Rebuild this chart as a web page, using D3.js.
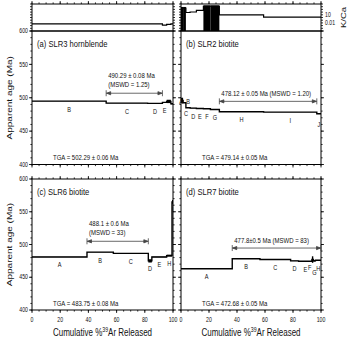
<!DOCTYPE html>
<html>
<head>
<meta charset="utf-8">
<script src="https://cdn.jsdelivr.net/npm/d3@7"></script>
<style>
  body { margin: 0; background: #fff; }
  svg { display: block; font-family: "Liberation Sans", Arial, sans-serif; }
</style>
</head>
<body>
<svg id="chart" width="350" height="338"></svg>
<script>
// ---------- data ----------
var sampleTitles = ["(a)  SLR3 hornblende", "(b)  SLR2 biotite", "(c)  SLR6 biotite", "(d)  SLR7 biotite"];

// (a) SLR3 hornblende
var aLabels = ["B", "C", "D", "E", "", ""];
var aCum    = [0, 52.6, 82, 92.5, 95.5, 98.5, 100];
var aAge    = [495, 492, 491.5, 493, 494.5, 491];
var aErr    = [0.2, 0.2, 0.2, 0.4, 2.5, 0.8];
var aKCa    = [0.004, 0.004, 0.004, 0.0015, 0.003, 0.004];
var aKCaErr = [0, 0, 0, 0, 0, 0];

// (b) SLR2 biotite
var bLabels = ["A", "B", "C", "D", "E", "F", "G", "H", "I", "J"];
var bCum    = [0, 1.5, 3.5, 6.5, 11, 16, 21, 27.4, 59, 97, 100];
var bAge    = [496, 492.5, 485, 484.5, 484, 483.5, 482.5, 479, 478.5, 476];
var bErr    = [4, 0.4, 0.3, 0.3, 0.3, 0.3, 0.3, 0.1, 0.1, 0.4];
var bKCa    = [3000, 3000, 70, 110, 400, 15000, 15000, 9, 1.5, 1.5];
var bKCaErr = [5000, 5000, 0, 0, 0, 18000, 18000, 0, 0, 0];

// (c) SLR6 biotite
var cLabels = ["A", "B", "C", "D", "E", "H", "I"];
var cCum    = [0, 39, 57.7, 82.5, 85, 95.5, 99.3, 100];
var cAge    = [481, 488.3, 486.5, 475, 481, 483, 565];
var cErr    = [0.2, 0.3, 0.3, 2.5, 0.4, 1.5, 3];

// (d) SLR7 biotite
var dLabels = ["A", "B", "C", "D", "E", "F", "G", "H"];
var dCum    = [0, 36.6, 56.4, 78.3, 84, 93.5, 94.5, 96, 100];
var dAge    = [463, 478.3, 477, 475, 474.5, 477, 475, 476];
var dErr    = [0.2, 0.3, 0.3, 0.3, 0.3, 5, 1, 0.4];

var plateauAge  = [490.29, 478.12, 488.1, 477.8];
var plateauFrom = [52.6, 27.4, 39, 36.6];
var plateauTo   = [92.5, 97, 82.5, 100];
var plateauText1 = ["490.29 \u00b1 0.08 Ma", "478.12 \u00b1 0.05 Ma (MSWD = 1.20)", "488.1 \u00b1 0.6 Ma", "477.8\u00b10.5 Ma (MSWD = 83)"];
var plateauText2 = ["(MSWD = 1.25)", "", "(MSWD = 33)", ""];
var tgaText = ["TGA = 502.29 \u00b1 0.06 Ma", "TGA  = 479.14 \u00b1 0.05 Ma", "TGA  = 483.75 \u00b1 0.08 Ma", "TGA  = 472.68 \u00b1 0.05 Ma"];

var xTickLabels = [0, 20, 40, 60, 80, 100];
var yTickLabels = [400, 450, 500, 550, 600];
var kcaTickLabels = [10, 0.01];

// ---------- layout ----------
var svg = d3.select("#chart");
var SQ = 0.8; // the figure is squeezed horizontally

var frames = [
  {x0: 32,  x1: 173, top: 31,  bot: 164.5, kca: true,  yLab: true,  xLab: false, kcaLab: false},
  {x0: 181, x1: 321, top: 31,  bot: 164.5, kca: true,  yLab: false, xLab: false, kcaLab: true},
  {x0: 32,  x1: 173, top: 179, bot: 310,   kca: false, yLab: true,  xLab: true,  kcaLab: false},
  {x0: 181, x1: 321, top: 179, bot: 310,   kca: false, yLab: false, xLab: true,  kcaLab: false}
];
var kTop = 4, kBot = 31;

var stepLabels = [aLabels, bLabels, cLabels, dLabels];
var stepCum = [aCum, bCum, cCum, dCum];
var stepAge = [aAge, bAge, cAge, dAge];
var stepErr = [aErr, bErr, cErr, dErr];
var stepKCa = [aKCa, bKCa];
var stepKCaErr = [aKCaErr, bKCaErr];

// hand nudges for crowded letters
var labelNudge = {"1-A": [-1, -7], "1-B": [3.5, -9], "1-C": [-2, -2], "1-J": [0, 3], "3-F": [-3, 0], "3-G": [0, 4]};

function txt(g, x, y, s, size, anchor) {
  return g.append("text")
    .attr("transform", "translate(" + x + "," + y + ") scale(" + SQ + ",1)")
    .attr("text-anchor", anchor || "start")
    .attr("font-size", size)
    .attr("fill", "#111")
    .text(s);
}

function ticksY(g, y, xPos, dir, vals, len) {
  vals.forEach(function (v) {
    g.append("line").attr("x1", xPos).attr("x2", xPos + dir * len)
      .attr("y1", y(v)).attr("y2", y(v)).attr("stroke", "#000").attr("stroke-width", 0.8);
  });
}
function ticksX(g, x, yPos, dir, vals, len) {
  vals.forEach(function (v) {
    g.append("line").attr("y1", yPos).attr("y2", yPos + dir * len)
      .attr("x1", x(v)).attr("x2", x(v)).attr("stroke", "#000").attr("stroke-width", 0.8);
  });
}

var minorX = d3.range(0, 101, 5), majorX = d3.range(0, 101, 20);
var minorY = d3.range(400, 601, 10), majorY = d3.range(400, 601, 50);

frames.forEach(function (f, i) {
  var g = svg.append("g");
  var x = d3.scaleLinear().domain([0, 100]).range([f.x0, f.x1]);
  var y = d3.scaleLinear().domain([400, 600]).range([f.bot, f.top]);

  svg.append("clipPath").attr("id", "clip" + i).append("rect")
    .attr("x", f.x0).attr("y", f.top).attr("width", f.x1 - f.x0).attr("height", f.bot - f.top);

  // ticks (outward)
  ticksY(g, y, f.x0, -1, minorY, 1.6);
  ticksY(g, y, f.x0, -1, majorY, 3);
  ticksY(g, y, f.x1, 1, minorY, 1.6);
  ticksY(g, y, f.x1, 1, majorY, 3);
  ticksX(g, x, f.bot, 1, minorX, 1.6);
  ticksX(g, x, f.bot, 1, majorX, 3);
  if (!f.kca) {
    ticksX(g, x, f.top, -1, minorX, 1.6);
    ticksX(g, x, f.top, -1, majorX, 3);
  }

  if (f.yLab) {
    yTickLabels.forEach(function (v) { txt(g, f.x0 - 4, y(v) + 2.2, v, 6.5, "end"); });
    txt(g, 0, 0, "Apparent age (Ma)", 10, "middle")
      .attr("transform", "translate(12," + ((f.top + f.bot) / 2) + ") scale(" + SQ + ",1) rotate(-90)");
  }
  if (f.xLab) {
    xTickLabels.forEach(function (v) { txt(g, x(v), f.bot + 12, v, 6.5, "middle"); });
    var t = txt(g, (f.x0 + f.x1) / 2, 335.5, "", 10, "middle");
    t.append("tspan").text("Cumulative %");
    t.append("tspan").attr("font-size", 6.5).attr("dy", -4).text("39");
    t.append("tspan").attr("dy", 4).text("Ar Released");
  }

  // frame
  g.append("rect").attr("x", f.x0).attr("y", f.top).attr("width", f.x1 - f.x0).attr("height", f.bot - f.top)
    .attr("fill", "none").attr("stroke", "#000").attr("stroke-width", 1);

  // age spectrum
  var cum = stepCum[i], age = stepAge[i], err = stepErr[i], labs = stepLabels[i];
  var plot = g.append("g").attr("clip-path", "url(#clip" + i + ")");
  var pts = cum.map(function (c, j) { return [c, age[Math.min(j, age.length - 1)]]; });
  plot.append("path").datum(pts)
    .attr("d", d3.line().x(function (d) { return x(d[0]); }).y(function (d) { return y(d[1]); }).curve(d3.curveStepAfter))
    .attr("fill", "none").attr("stroke", "#000").attr("stroke-width", 1.4);
  age.forEach(function (a, j) {
    plot.append("rect").attr("x", x(cum[j])).attr("width", x(cum[j + 1]) - x(cum[j]))
      .attr("y", y(a + err[j])).attr("height", y(a - err[j]) - y(a + err[j])).attr("fill", "#000");
  });
  labs.forEach(function (l, j) {
    if (!l) return;
    var nd = labelNudge[i + "-" + l] || [0, 0];
    var lx = x((cum[j] + cum[j + 1]) / 2) + nd[0];
    var ly = Math.min(y(age[j]), f.bot) + 10.5 + nd[1];
    txt(g, lx, ly, l, 7, "middle");
  });

  // plateau bar
  var py = y(plateauAge[i]) - 11;
  var px0 = x(plateauFrom[i]), px1 = x(plateauTo[i]);
  var bar = g.append("g").attr("stroke", "#444").attr("stroke-width", 0.8).attr("fill", "#444");
  bar.append("line").attr("x1", px0).attr("x2", px1).attr("y1", py).attr("y2", py);
  bar.append("line").attr("x1", px0).attr("x2", px0).attr("y1", py - 3).attr("y2", py + 3);
  bar.append("line").attr("x1", px1).attr("x2", px1).attr("y1", py - 3).attr("y2", py + 3);
  bar.append("path").attr("d", "M" + (px0 + 0.5) + "," + py + "l4,-1.6v3.2z");
  bar.append("path").attr("d", "M" + (px1 - 0.5) + "," + py + "l-4,-1.6v3.2z");
  if (plateauText2[i]) {
    txt(g, px0 + 2, py - 15, plateauText1[i], 7.5);
    txt(g, px0 + 2, py - 6, plateauText2[i], 7.5);
  } else {
    txt(g, px0 + 2, py - 5, plateauText1[i], 7.5);
  }

  txt(g, f.x0 + 21, f.bot - 4.5, tgaText[i], 7.5);
  txt(g, f.x0 + 5, f.top + 15.5, sampleTitles[i], 9.5);

  // K/Ca strip
  if (f.kca) {
    var ky = d3.scaleLog().domain([1e-5, 1e5]).range([kBot, kTop]);
    var decades = d3.range(-5, 6).map(function (e) { return Math.pow(10, e); });
    g.append("clipPath").attr("id", "kclip" + i).append("rect")
      .attr("x", f.x0).attr("y", kTop).attr("width", f.x1 - f.x0).attr("height", kBot - kTop);
    var kp = g.append("g").attr("clip-path", "url(#kclip" + i + ")");
    var kv = stepKCa[i], ke = stepKCaErr[i];
    kv.forEach(function (v, j) {
      if (!ke[j]) return;
      var lo = v - ke[j] > 1e-5 ? v - ke[j] : 1e-5;
      kp.append("rect").attr("x", x(cum[j])).attr("width", x(cum[j + 1]) - x(cum[j]))
        .attr("y", ky(v + ke[j])).attr("height", ky(lo) - ky(v + ke[j])).attr("fill", "#000");
    });
    var kpts = cum.map(function (c, j) { return [c, kv[Math.min(j, kv.length - 1)]]; });
    kp.append("path").datum(kpts)
      .attr("d", d3.line().x(function (d) { return x(d[0]); }).y(function (d) { return ky(d[1]); }).curve(d3.curveStepAfter))
      .attr("fill", "none").attr("stroke", "#000").attr("stroke-width", 1.2);
    ticksY(g, ky, f.x0, -1, decades, 2);
    ticksY(g, ky, f.x1, 1, decades, 2);
    ticksX(g, x, kTop, -1, minorX, 1.6);
    ticksX(g, x, kTop, -1, majorX, 3);
    g.append("rect").attr("x", f.x0).attr("y", kTop).attr("width", f.x1 - f.x0).attr("height", kBot - kTop)
      .attr("fill", "none").attr("stroke", "#000").attr("stroke-width", 1);
    if (f.kcaLab) {
      kcaTickLabels.forEach(function (v) { txt(g, f.x1 + 4, ky(v) + 2.2, v, 6.5); });
      txt(g, 0, 0, "K/Ca", 9.5, "middle")
        .attr("transform", "translate(346," + ((kTop + kBot) / 2) + ") scale(" + SQ + ",1) rotate(-90)");
    }
  }
});
</script>
</body>
</html>
